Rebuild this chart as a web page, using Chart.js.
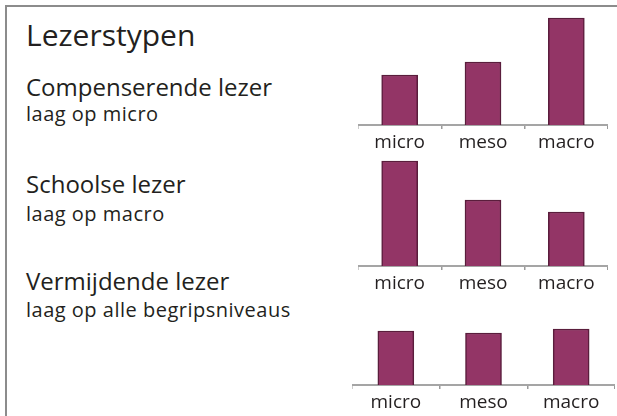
<!DOCTYPE html>
<html>
<head>
<meta charset="utf-8">
<script src="https://cdn.jsdelivr.net/npm/chart.js@4/dist/chart.umd.min.js"></script>
<style>
  html, body { margin: 0; padding: 0; background: #fff; }
  #root { position: relative; width: 617px; height: 416px; overflow: hidden; background: #fff; font-family: "Open Sans", sans-serif; color: #231f20; }
  #frame { position: absolute; left: 5px; top: 5px; width: 620px; height: 420px; border-left: 2px solid #8c8c8c; border-top: 2px solid #8c8c8c; }
  .t { position: absolute; white-space: nowrap; line-height: 1; }
  .s { font-size: 20px; letter-spacing: 0.5px; }
  canvas { position: absolute; }
</style>
</head>
<body>
<div id="root">
  <div id="frame"></div>
  <div class="t" style="left:26px; top:20px; font-size:30px;">Lezerstypen</div>
  <div class="t" style="left:26px; top:75px; font-size:24px;">Compenserende lezer</div>
  <div class="t s" style="left:26px; top:104px;">laag op micro</div>
  <div class="t" style="left:26px; top:172px; font-size:24px;">Schoolse lezer</div>
  <div class="t s" style="left:26px; top:204px;">laag op macro</div>
  <div class="t" style="left:26px; top:269px; font-size:24px;">Vermijdende lezer</div>
  <div class="t s" style="left:26px; top:300px;">laag op alle begripsniveaus</div>
  <canvas id="c1" width="250" height="151" style="left:358px; top:5px;"></canvas>
  <canvas id="c2" width="250" height="151" style="left:358px; top:146px;"></canvas>
  <canvas id="c3" width="263" height="151" style="left:352px; top:265px;"></canvas>
</div>
<script>
const categories = ["micro", "meso", "macro"];
const compenserend = [5.0, 6.3, 10.7];
const schools = [10.5, 6.6, 5.4];
const vermijdend = [5.4, 5.2, 5.6];
const yMax = 12;

function makeChart(id, values) {
  new Chart(document.getElementById(id), {
    type: "bar",
    data: {
      labels: categories,
      datasets: [{
        data: values,
        backgroundColor: "#933566",
        borderColor: "#5a1d3c",
        borderWidth: 1.5,
        barThickness: 36
      }]
    },
    options: {
      responsive: false,
      animation: false,
      devicePixelRatio: 1,
      layout: { padding: 0 },
      plugins: { legend: { display: false }, tooltip: { enabled: false } },
      scales: {
        x: {
          offset: true,
          grid: { display: true, drawOnChartArea: false, drawTicks: true, tickLength: 4, color: "#9a9a9a", lineWidth: 1.5, offset: true },
          border: { display: true, color: "#a5a5a5", width: 2 },
          ticks: { color: "#231f20", font: { family: "Open Sans", size: 19, lineHeight: 1 }, padding: 4, maxRotation: 0, autoSkip: false }
        },
        y: { display: false, min: 0, max: yMax }
      }
    }
  });
}
makeChart("c1", compenserend);
makeChart("c2", schools);
makeChart("c3", vermijdend);
</script>
</body>
</html>
